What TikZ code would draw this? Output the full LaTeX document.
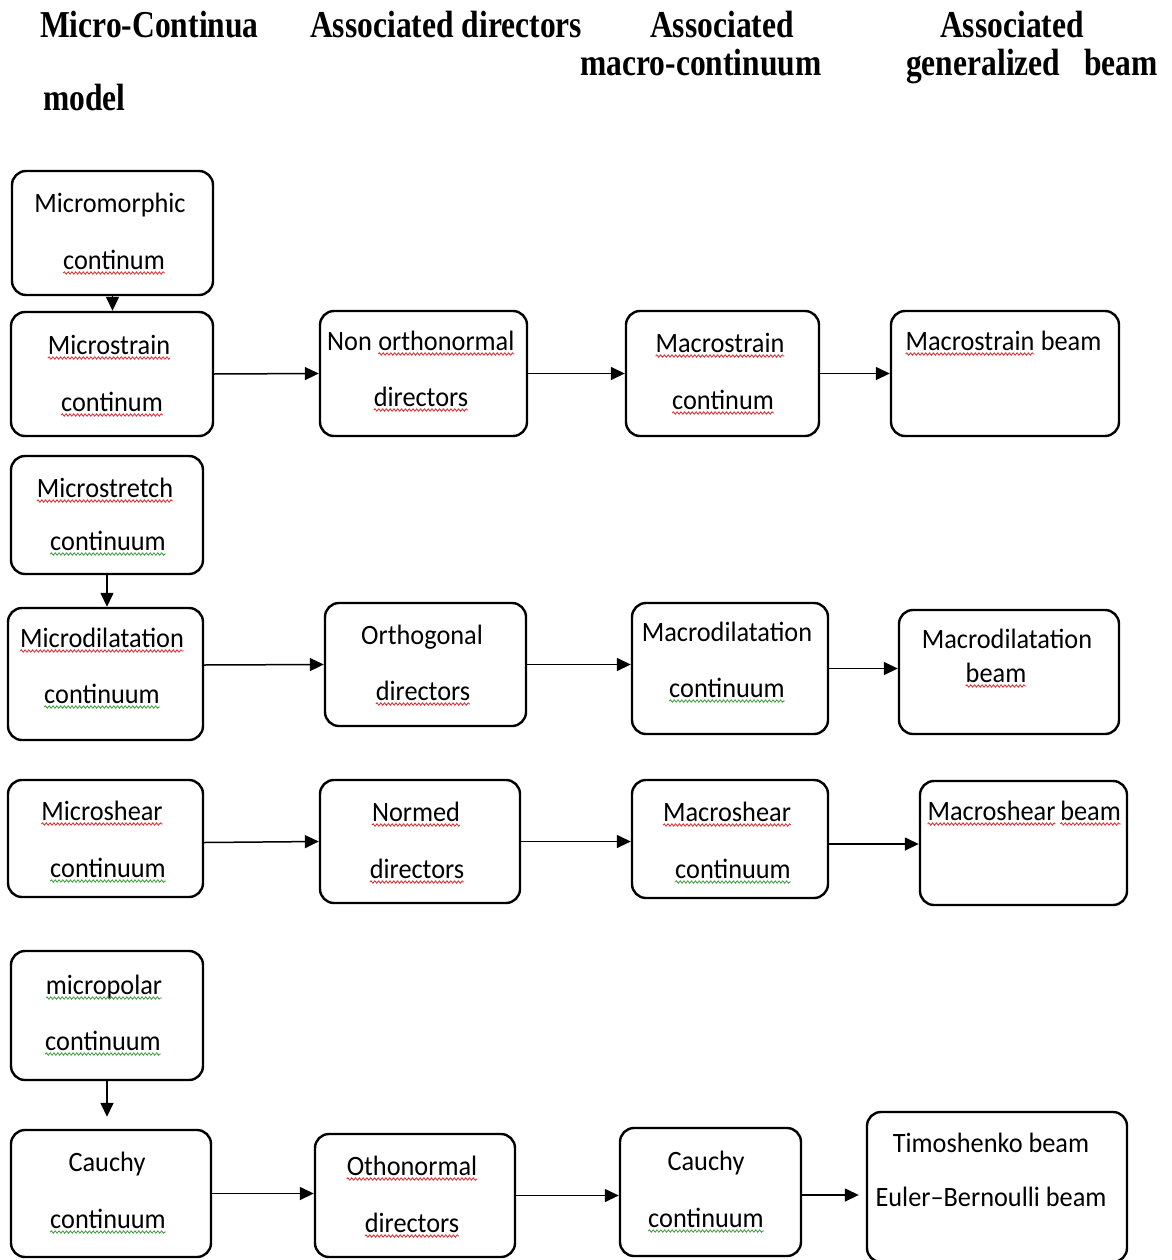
\documentclass[tikz,border=0pt]{standalone}
\usepackage{fontspec}
\setmainfont{Carlito}[FakeStretch=0.94]
\newfontfamily\hdrfont[FakeStretch=0.83]{Liberation Serif}
\usepackage{xcolor}
\usetikzlibrary{arrows.meta,fit,decorations.pathmorphing}
\definecolor{spellred}{HTML}{E8262B}
\definecolor{spellgreen}{HTML}{3C9E3C}
\tikzset{
  bx/.style={draw, line width=2.4pt, rounded corners=14pt, inner sep=0pt},
  tx/.style={inner sep=0pt, font=\fontsize{28}{30}\selectfont, text height=18pt, text depth=0pt},
  hd/.style={inner sep=0pt, font=\hdrfont\bfseries\fontsize{38}{40}\selectfont, text height=25pt, text depth=0pt},
  arr/.style={line width=1.5pt, -{Triangle[length=14pt,width=13pt]}},
  wave/.style={line width=0.8pt, decorate, decoration={snake, amplitude=1.2pt, segment length=3.8pt}}
}
\newcommand\sqw[2]{\tikz[baseline=(w.base)]{\node[inner sep=0pt, outer sep=0pt] (w) {#2}; \draw[wave, draw=#1] ([yshift=-4pt]w.base west) -- ([yshift=-4pt]w.base east);}}
\newcommand\rw[1]{\sqw{spellred}{#1}}
\newcommand\gw[1]{\sqw{spellgreen}{#1}}
\begin{document}
\begin{tikzpicture}[x=1pt,y=-1pt]
\useasboundingbox (0,0) rectangle (1171,1260);
% headers
\node[hd, anchor=west] (h1a) at (40,25) {Micro-Continua};
\node[hd, anchor=west] (h1b) at (43,98) {model};
\node[hd, anchor=west] (h2) at (310,25) {Associated directors};
\node[hd] (h3a) at (722,25) {Associated};
\node[hd] (h3b) at (701,63) {macro-continuum};
\node[hd] (h4a) at (1012,25) {Associated};
\node[hd, anchor=west] (h4b) at (906,63) {generalized\hspace{24pt}beam};
% column 1
\node[bx, fit={(12,171) (213,295)}] (mmorph) {};
\node[tx] (mmorph1) at (110,203) {Micromorphic};
\node[tx] (mmorph2) at (114,260) {\rw{continum}};
\node[bx, fit={(11,312) (213,436)}] (mstrain) {};
\node[tx] (mstrain1) at (109,345) {\rw{Microstrain}};
\node[tx] (mstrain2) at (112,402) {\rw{continum}};
\node[bx, fit={(11,456) (203,574)}] (mstretch) {};
\node[tx] (mstretch1) at (105,488) {\rw{Microstretch}};
\node[tx] (mstretch2) at (108,541) {\gw{continuum}};
\node[bx, fit={(8,608) (203,740)}] (mdil) {};
\node[tx] (mdil1) at (102,638) {\rw{Microdilatation}};
\node[tx] (mdil2) at (102,694) {\gw{continuum}};
\node[bx, fit={(8,780) (203,897)}] (mshear) {};
\node[tx] (mshear1) at (102,811) {\rw{Microshear}};
\node[tx] (mshear2) at (108,868) {\gw{continuum}};
\node[bx, fit={(11,951) (203,1080)}] (mpolar) {};
\node[tx] (mpolar1) at (104,985) {\gw{micropolar}};
\node[tx] (mpolar2) at (103,1041) {\gw{continuum}};
\node[bx, fit={(11,1130) (211,1257)}] (cauchy) {};
\node[tx] (cauchy1) at (107,1162) {Cauchy};
\node[tx] (cauchy2) at (108,1219) {\gw{continuum}};
% column 2
\node[bx, fit={(320,311) (527,436)}] (nonorth) {};
\node[tx] (nonorth1) at (421,341) {Non \rw{orthonormal}};
\node[tx] (nonorth2) at (421,397) {\rw{directors}};
\node[bx, fit={(325,603) (526,726)}] (orth) {};
\node[tx] (orth1) at (422,635) {Orthogonal};
\node[tx] (orth2) at (423,691) {\rw{directors}};
\node[bx, fit={(320,780) (520,903)}] (normed) {};
\node[tx] (normed1) at (416,812) {\rw{Normed}};
\node[tx] (normed2) at (417,869) {\rw{directors}};
\node[bx, fit={(315,1134) (515,1257)}] (otho) {};
\node[tx] (otho1) at (412,1166) {\rw{Othonormal}};
\node[tx] (otho2) at (412,1223) {\rw{directors}};
% column 3
\node[bx, fit={(626,311) (819,436)}] (Mstrain) {};
\node[tx] (Mstrain1) at (720,343) {\rw{Macrostrain}};
\node[tx] (Mstrain2) at (723,400) {\rw{continum}};
\node[bx, fit={(632,603) (828,734)}] (Mdil) {};
\node[tx] (Mdil1) at (727,632) {Macrodilatation};
\node[tx] (Mdil2) at (727,688) {\gw{continuum}};
\node[bx, fit={(632,780) (828,898)}] (Mshear) {};
\node[tx] (Mshear1) at (727,812) {\rw{Macroshear}};
\node[tx] (Mshear2) at (733,869) {\gw{continuum}};
\node[bx, fit={(620,1128) (801,1256)}] (cauchyC) {};
\node[tx] (cauchyC1) at (706,1161) {Cauchy};
\node[tx] (cauchyC2) at (706,1218) {\gw{continuum}};
% column 4
\node[bx, fit={(891,311) (1119,436)}] (MstrainB) {};
\node[tx, anchor=west] (MstrainB1) at (905,341) {\rw{Macrostrain} beam};
\node[bx, fit={(899,610) (1119,734)}] (MdilB) {};
\node[tx] (MdilB1) at (1007,639) {Macrodilatation};
\node[tx] (MdilB2) at (996,673) {\rw{beam}};
\node[bx, fit={(920,781) (1127,905)}] (MshearB) {};
\node[tx, anchor=west] (MshearB1) at (927,811) {\rw{Macroshear}\hspace{4pt}\rw{beam}};
\node[bx, fit={(867,1112) (1127,1262)}] (timo) {};
\node[tx] (timo1) at (991,1143) {Timoshenko beam};
\node[tx] (timo2) at (991,1197) {Euler--Bernoulli beam};
% connectors
\draw[arr] (mmorph.south) -- (mmorph.south |- mstrain.north);
\draw[arr] (mstrain.east) -- (nonorth.west);
\draw[arr] (nonorth.east) -- (Mstrain.west);
\draw[arr] (Mstrain.east) -- (MstrainB.west);
\draw[arr] (mstretch.south) -- (mstretch.south |- mdil.north);
\draw[arr] ([yshift=9pt]mdil.east) -- (orth.west);
\draw[arr] (orth.east) -- (orth.east -| Mdil.west);
\draw[arr] (Mdil.east) -- (Mdil.east -| MdilB.west);
\draw[arr] ([yshift=-4pt]mshear.east) -- (normed.west);
\draw[arr] (normed.east) -- (normed.east -| Mshear.west);
\draw[arr] ([yshift=-5pt]Mshear.east) coordinate (ms) -- (ms -| MshearB.west);
\draw[arr, shorten >=12pt] (mpolar.south) -- (mpolar.south |- cauchy.north);
\draw[arr] (cauchy.east) -- (cauchy.east -| otho.west);
\draw[arr] (otho.east) -- (otho.east -| cauchyC.west);
\draw[arr, shorten >=7pt] ([yshift=-3pt]cauchyC.east) coordinate (ct) -- (ct -| timo.west);
\end{tikzpicture}
\end{document}
